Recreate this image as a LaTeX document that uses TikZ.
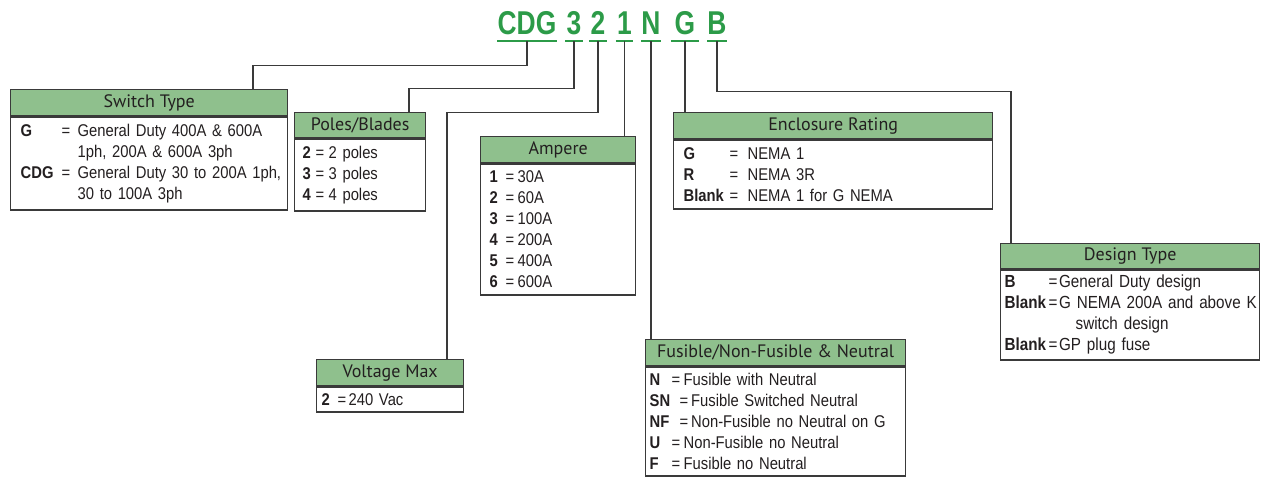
\documentclass[tikz,border=0pt]{standalone}
\usepackage{fontspec}
\setmainfont{Liberation Sans}
\newfontfamily\condfont[FakeStretch=0.87]{Liberation Sans}
\newfontfamily\codefont[FakeStretch=0.8]{Liberation Sans}
\newfontfamily\headfont{PT Sans}
\definecolor{hdrgreen}{RGB}{143,192,141}
\definecolor{codegreen}{RGB}{44,155,72}
\definecolor{bordercol}{RGB}{58,58,58}
\definecolor{txtcol}{RGB}{35,31,32}
\newcommand{\crow}[4]{\mbox{\makebox[#1][l]{\bfseries #3}\makebox[#2][l]{=}#4}}
\newcommand{\cont}[2]{\mbox{\hspace*{#1}#2}}
\tikzset{
  codeletter/.style={anchor=base, inner sep=0pt, text height=24pt, text depth=7pt,
    text=codegreen, font=\codefont\bfseries\fontsize{33}{36}\selectfont},
  uline/.style={draw=codegreen, line width=2.2pt},
  conn/.style={draw=bordercol, line width=1.3pt},
  hdr/.style={draw=bordercol, line width=1.3pt, fill=hdrgreen, anchor=north west,
    inner sep=0pt, text=txtcol, font=\headfont\fontsize{18}{20}\selectfont},
  body/.style={draw=bordercol, line width=1.3pt, fill=white, anchor=north west,
    align=left, inner ysep=0pt, text=txtcol, font=\condfont\fontsize{17}{21}\selectfont}
}
\begin{document}
\begin{tikzpicture}[x=1pt,y=-1pt]
\useasboundingbox (0,0) rectangle (1264,477);
% code letters
\node[codeletter, minimum width=59pt] (cdg) at (527,34) {CDG};
\node[codeletter, minimum width=17pt] (c3) at (574,34) {3};
\node[codeletter, minimum width=18pt] (c2) at (598,34) {2};
\node[codeletter, minimum width=17pt] (c1) at (624.5,34) {1};
\node[codeletter, minimum width=18pt] (cn) at (651,34) {N};
\node[codeletter, minimum width=28pt] (cg) at (685,34) {G};
\node[codeletter, minimum width=18pt] (cb) at (717,34) {B};
\foreach \n in {cdg,c3,c2,c1,cn,cg,cb}{\draw[uline] (\n.south west) -- (\n.south east);}
% Switch Type
\node[hdr, minimum width=277pt, minimum height=26pt] (sth) at (10,89) {Switch Type};
\node[body, text width=257pt, inner xsep=10pt, minimum height=93pt] (stb) at (sth.south west) {%
\crow{41pt}{16pt}{G}{General Duty 400A \& 600A}\\
\cont{57pt}{1ph, 200A \& 600A 3ph}\\
\crow{41pt}{16pt}{CDG}{General Duty 30 to 200A 1ph,}\\
\cont{57pt}{30 to 100A 3ph}};
% Poles/Blades
\node[hdr, minimum width=131pt, minimum height=25pt] (poh) at (294,112) {Poles/Blades};
\node[body, text width=115pt, inner xsep=8pt, minimum height=72pt] (pob) at (poh.south west) {%
\crow{13pt}{13pt}{2}{2 poles}\\
\crow{13pt}{13pt}{3}{3 poles}\\
\crow{13pt}{13pt}{4}{4 poles}};
% Ampere
\node[hdr, minimum width=155pt, minimum height=26pt] (amh) at (480,136) {Ampere};
\node[body, text width=137pt, inner xsep=9pt, minimum height=131pt] (amb) at (amh.south west) {%
\crow{16pt}{12pt}{1}{30A}\\
\crow{16pt}{12pt}{2}{60A}\\
\crow{16pt}{12pt}{3}{100A}\\
\crow{16pt}{12pt}{4}{200A}\\
\crow{16pt}{12pt}{5}{400A}\\
\crow{16pt}{12pt}{6}{600A}};
% Enclosure Rating
\node[hdr, minimum width=319pt, minimum height=26pt] (enh) at (673,112) {Enclosure Rating};
\node[body, text width=299pt, inner xsep=10pt, minimum height=69pt] (enb) at (enh.south west) {%
\crow{46pt}{18pt}{G}{NEMA 1}\\
\crow{46pt}{18pt}{R}{NEMA 3R}\\
\crow{46pt}{18pt}{Blank}{NEMA 1 for G NEMA}};
% Design Type
\node[hdr, minimum width=259pt, minimum height=25pt] (deh) at (1000,243) {Design Type};
\node[body, text width=251pt, inner xsep=4pt, minimum height=90pt,
  font=\condfont\fontsize{17.5}{21}\selectfont] (deb) at (deh.south west) {%
\crow{44pt}{10.5pt}{B}{General Duty design}\\
\crow{44pt}{10.5pt}{Blank}{G NEMA 200A and above K}\\
\cont{71pt}{switch design}\\
\crow{44pt}{10.5pt}{Blank}{GP plug fuse}};
% Voltage Max
\node[hdr, minimum width=147pt, minimum height=26pt] (voh) at (316,359) {Voltage Max};
\node[body, text width=137pt, inner xsep=5pt, minimum height=25pt] (vob) at (voh.south west) {%
\crow{16pt}{11pt}{2}{240 Vac}};
% Fusible
\node[hdr, minimum width=260pt, minimum height=26pt] (fuh) at (645,339) {Fusible/Non-Fusible \& Neutral};
\node[body, text width=252pt, inner xsep=4pt, minimum height=109pt] (fub) at (fuh.south west) {%
\crow{22pt}{12pt}{N}{Fusible with Neutral}\\
\crow{30pt}{11.5pt}{SN}{Fusible Switched Neutral}\\
\crow{30pt}{11.5pt}{NF}{Non-Fusible no Neutral on G}\\
\crow{22pt}{12pt}{U}{Non-Fusible no Neutral}\\
\crow{22pt}{12pt}{F}{Fusible no Neutral}};
% connectors
\draw[conn] (cdg.south) -- ++(0,24) -| ([xshift=243pt]sth.north west);
\draw[conn] (c3.south) -- ++(0,47) -| ([xshift=115pt]poh.north west);
\draw[conn] (c2.south) -- ++(0,71) -| ([xshift=131pt]voh.north west);
\draw[conn] (c1.south) -- (c1.south |- amh.north);
\draw[conn] (cn.south) -- (cn.south |- fuh.north);
\draw[conn] (cg.south) -- (cg.south |- enh.north);
\draw[conn] (cb.south) -- ++(0,50) -| ([xshift=11pt]deh.north west);
\end{tikzpicture}
\end{document}
